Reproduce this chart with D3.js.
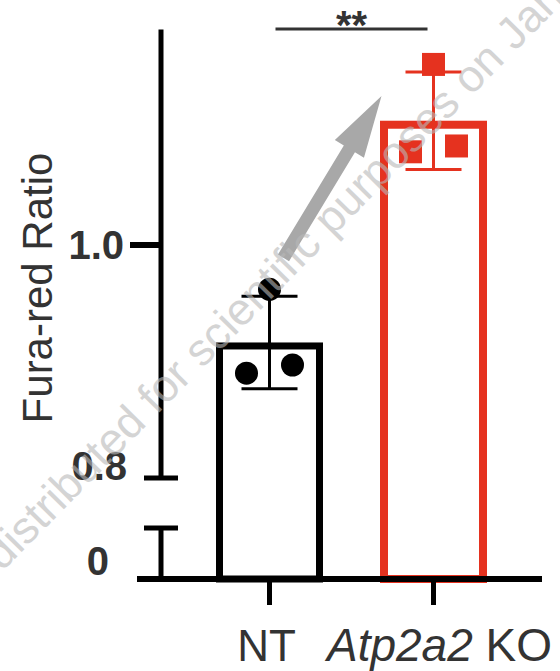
<!DOCTYPE html>
<html>
<head>
<meta charset="utf-8">
<script src="https://cdn.jsdelivr.net/npm/d3@7"></script>
<style>
  body { margin: 0; background: #fff; }
  svg { display: block; font-family: "Liberation Sans", Arial, sans-serif; }
</style>
</head>
<body>
<div id="chart"></div>
<script>
// data
var categories = ["NT", "Atp2a2 KO"];
var ntValues = [0.890, 0.962, 0.897];
var koValues = [1.080, 1.155, 1.085];
var upperTicks = [1.0];
var breakTicks = [0.8, 0];
var sigLabel = "**";
var watermark = "distributed for scientific purposes on Jan";

var width = 560, height = 671;
var axisColor = "#000", textColor = "#333";
var colors = {"NT": "#000000", "Atp2a2 KO": "#e5321f"};

var svg = d3.select("#chart").append("svg")
  .attr("width", width)
  .attr("height", height);

var xScale = d3.scaleBand()
  .domain(categories)
  .range([187.5, 515.5]);

// broken y axis: upper segment 0.8 - 1.185, lower segment just holds 0
var yUpper = d3.scaleLinear().domain([0.8, 1.2]).range([478, 12]);
var yLower = d3.scaleLinear().domain([0, 0.1]).range([579, 528]);
function y(v) { return v >= 0.8 ? yUpper(v) : yLower(v); }

var axisX = 161, baseY = yLower(0);
function cx(c) { return xScale(c) + xScale.bandwidth() / 2; }

var groups = [
  {name: "NT", values: ntValues, shape: "circle", sw: 7},
  {name: "Atp2a2 KO", values: koValues, shape: "square", sw: 8}
];
groups.forEach(function(g) {
  g.mean = d3.mean(g.values);
  g.sd = d3.deviation(g.values);
});

// bars (stroke drawn inside the outline)
var barW = 107;
svg.selectAll("rect.bar")
  .data(groups)
  .enter()
  .append("rect")
  .attr("class", "bar")
  .attr("x", function(d) { return cx(d.name) - barW / 2 + d.sw / 2; })
  .attr("y", function(d) { return y(d.mean) + d.sw / 2; })
  .attr("width", function(d) { return barW - d.sw; })
  .attr("height", function(d) { return baseY - y(d.mean) - d.sw / 2; })
  .style("fill", "#fff")
  .style("stroke", function(d) { return colors[d.name]; })
  .style("stroke-width", function(d) { return d.sw; });

// error bars
var capW = 56;
var err = svg.selectAll("g.err")
  .data(groups)
  .enter()
  .append("g")
  .attr("class", "err")
  .style("stroke", function(d) { return colors[d.name]; })
  .style("stroke-width", 3);
err.append("line")
  .attr("x1", function(d) { return cx(d.name); })
  .attr("x2", function(d) { return cx(d.name); })
  .attr("y1", function(d) { return y(d.mean - d.sd); })
  .attr("y2", function(d) { return y(d.mean + d.sd); });
[-1, 1].forEach(function(s) {
  err.append("line")
    .attr("x1", function(d) { return cx(d.name) - capW / 2; })
    .attr("x2", function(d) { return cx(d.name) + capW / 2; })
    .attr("y1", function(d) { return y(d.mean + s * d.sd); })
    .attr("y2", function(d) { return y(d.mean + s * d.sd); });
});

// individual points, spread sideways by index
var jitter = 23;
groups.forEach(function(g) {
  var pts = svg.append("g").selectAll(".pt")
    .data(g.values)
    .enter();
  if (g.shape === "circle") {
    pts.append("circle")
      .attr("cx", function(d, i) { return cx(g.name) + (i - 1) * jitter; })
      .attr("cy", function(d) { return y(d); })
      .attr("r", 11.5)
      .style("fill", colors[g.name]);
  } else {
    pts.append("rect")
      .attr("x", function(d, i) { return cx(g.name) + (i - 1) * jitter - 11.5; })
      .attr("y", function(d) { return y(d) - 11.5; })
      .attr("width", 23)
      .attr("height", 23)
      .style("fill", colors[g.name]);
  }
});

// y axis, upper segment
svg.append("line")
  .attr("x1", axisX).attr("x2", axisX)
  .attr("y1", yUpper(1.185)).attr("y2", yUpper(0.8))
  .style("stroke", axisColor).style("stroke-width", 5);
// lower segment
svg.append("line")
  .attr("x1", axisX).attr("x2", axisX)
  .attr("y1", yLower(0.1)).attr("y2", baseY)
  .style("stroke", axisColor).style("stroke-width", 5);
// break caps
[yUpper(0.8), yLower(0.1)].forEach(function(yy) {
  svg.append("line")
    .attr("x1", axisX - 17).attr("x2", axisX + 17)
    .attr("y1", yy).attr("y2", yy)
    .style("stroke", axisColor).style("stroke-width", 5);
});

// major tick 1.0
svg.selectAll("line.ytick")
  .data(upperTicks)
  .enter()
  .append("line")
  .attr("class", "ytick")
  .attr("x1", axisX - 31).attr("x2", axisX)
  .attr("y1", yUpper).attr("y2", yUpper)
  .style("stroke", axisColor).style("stroke-width", 6);

var tickLabels = svg.append("g")
  .style("font-size", "40px")
  .style("font-weight", "bold")
  .style("fill", textColor)
  .attr("text-anchor", "end");
tickLabels.selectAll("text.up")
  .data(upperTicks)
  .enter()
  .append("text")
  .attr("x", 124)
  .attr("y", function(d) { return yUpper(d) + 14; })
  .text(function(d) { return d3.format(".1f")(d); });
tickLabels.append("text")
  .attr("x", 127)
  .attr("y", yUpper(breakTicks[0]) + 2)
  .text(d3.format(".1f")(breakTicks[0]));
tickLabels.append("text")
  .attr("x", 109)
  .attr("y", yLower(breakTicks[1]) - 4)
  .text(breakTicks[1]);

// x axis
svg.append("line")
  .attr("x1", 137).attr("x2", 542)
  .attr("y1", baseY).attr("y2", baseY)
  .style("stroke", axisColor).style("stroke-width", 6);
svg.selectAll("line.xtick")
  .data(categories)
  .enter()
  .append("line")
  .attr("x1", cx).attr("x2", cx)
  .attr("y1", baseY).attr("y2", baseY + 26)
  .style("stroke", axisColor).style("stroke-width", 5);

// x labels
svg.append("text")
  .attr("x", cx("NT") - 3)
  .attr("y", 661)
  .attr("text-anchor", "middle")
  .style("font-size", "44px")
  .style("fill", textColor)
  .text("NT");
var koLabel = svg.append("text")
  .attr("x", cx("Atp2a2 KO") + 6)
  .attr("y", 661)
  .attr("text-anchor", "middle")
  .style("font-size", "46px")
  .style("fill", textColor);
koLabel.append("tspan").style("font-style", "italic").text("Atp2a2");
koLabel.append("tspan").text(" KO");

// y title
svg.append("text")
  .attr("transform", "translate(52," + 288 + ") rotate(-90)")
  .attr("text-anchor", "middle")
  .style("font-size", "42px")
  .style("fill", textColor)
  .text("Fura-red Ratio");

// significance bar
var sigX1 = cx("NT") + 6, sigX2 = cx("Atp2a2 KO") - 6;
svg.append("line")
  .attr("x1", sigX1).attr("x2", sigX2)
  .attr("y1", 29).attr("y2", 29)
  .style("stroke", textColor).style("stroke-width", 3);
svg.append("text")
  .attr("x", (sigX1 + sigX2) / 2)
  .attr("y", 39)
  .attr("text-anchor", "middle")
  .style("font-size", "40px")
  .style("font-weight", "bold")
  .style("fill", textColor)
  .text(sigLabel);

// grey arrow from NT toward KO
var tail = [cx("NT") + 14, yUpper(0.989)];
var tip = [cx("Atp2a2 KO") - 52, yUpper(1.128)];
var len = Math.hypot(tip[0] - tail[0], tip[1] - tail[1]);
var ang = Math.atan2(tip[1] - tail[1], tip[0] - tail[0]) * 180 / Math.PI;
var shaft = 6.5, head = 17, headLen = 62;
svg.append("path")
  .attr("transform", "translate(" + tail[0] + "," + tail[1] + ") rotate(" + ang + ")")
  .attr("d", "M0," + (-shaft) + "L" + (len - headLen) + "," + (-shaft) +
    "L" + (len - headLen) + "," + (-head) + "L" + len + ",0" +
    "L" + (len - headLen) + "," + head + "L" + (len - headLen) + "," + shaft +
    "L0," + shaft + "Z")
  .style("fill", "#a8a8a8");

// watermark
svg.append("text")
  .attr("transform", "translate(2,572) rotate(-45.4)")
  .style("font-size", "45px")
  .style("fill", "#b8b8b8")
  .style("opacity", 0.6)
  .text(watermark);
</script>
</body>
</html>
